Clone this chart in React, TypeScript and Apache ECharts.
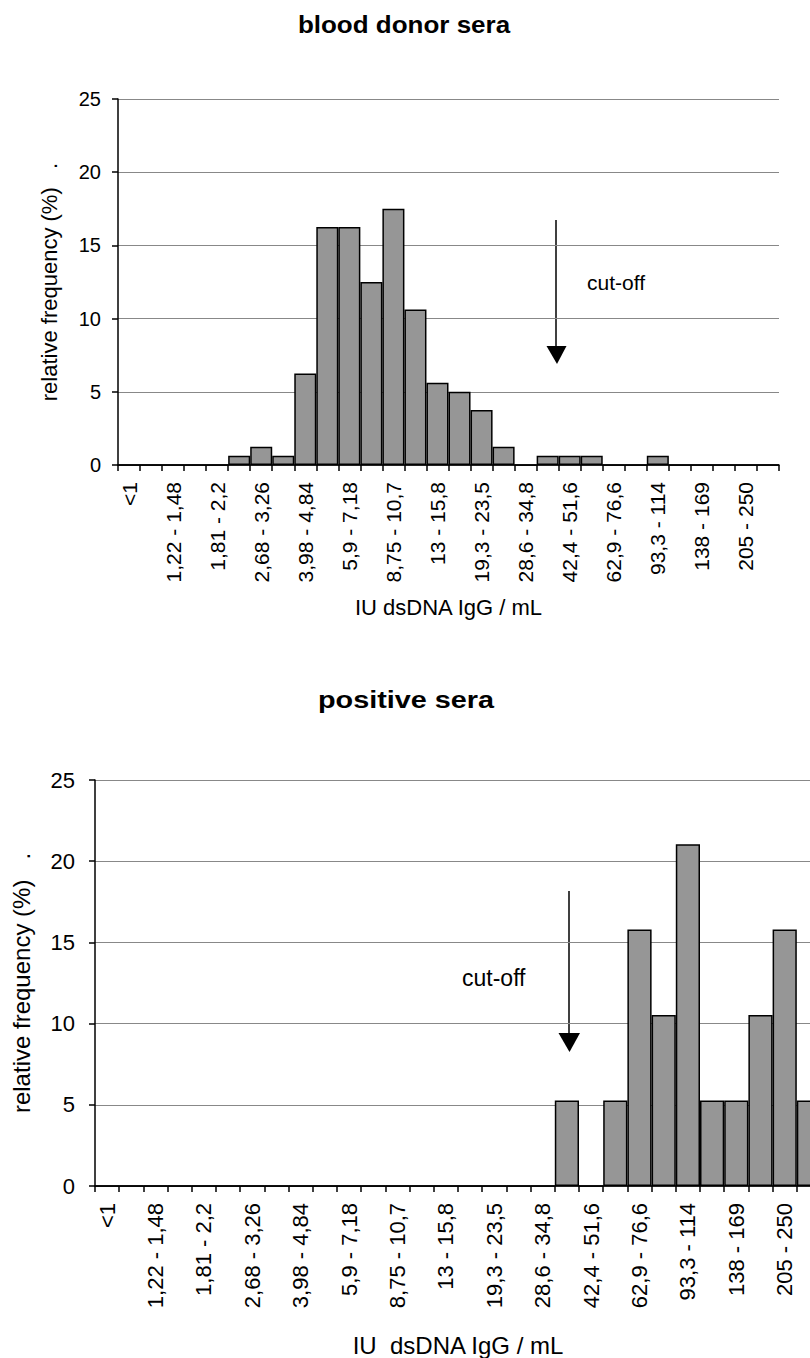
import React, { useEffect, useRef } from "react";
import * as echarts from "echarts";

const categories = [
  "<1", "1 - 1,22", "1,22 - 1,48", "1,48 - 1,81", "1,81 - 2,2", "2,2 - 2,68",
  "2,68 - 3,26", "3,26 - 3,98", "3,98 - 4,84", "4,84 - 5,9", "5,9 - 7,18",
  "7,18 - 8,75", "8,75 - 10,7", "10,7 - 13", "13 - 15,8", "15,8 - 19,3",
  "19,3 - 23,5", "23,5 - 28,6", "28,6 - 34,8", "34,8 - 42,4", "42,4 - 51,6",
  "51,6 - 62,9", "62,9 - 76,6", "76,6 - 93,3", "93,3 - 114", "114 - 138",
  "138 - 169", "169 - 205", "205 - 250", ">250",
];

// blood donor sera, relative frequency (%)
const donorValues = [
  0, 0, 0, 0, 0, 0.625, 1.25, 0.625, 6.25, 16.25, 16.25, 12.5, 17.5, 10.625,
  5.625, 5, 3.75, 1.25, 0, 0.625, 0.625, 0.625, 0, 0, 0.625, 0, 0, 0, 0, 0,
];

// positive sera, relative frequency (%)
const positiveValues = [
  0, 0, 0, 0, 0, 0, 0, 0, 0, 0, 0, 0, 0, 0, 0, 0, 0, 0, 0, 5.26, 0, 5.26,
  15.79, 10.53, 21.05, 5.26, 5.26, 10.53, 15.79, 5.26,
];

const titles = ["blood donor sera", "positive sera"];
const yName = "relative frequency (%)   .";
const xNames = ["IU dsDNA IgG / mL", "IU  dsDNA IgG / mL"];
const cutOffLabel = "cut-off";

const FONT = "'Liberation Sans', Arial, Helvetica, sans-serif";

function App() {
  const ref = useRef<HTMLDivElement>(null);

  useEffect(() => {
    if (!ref.current) return;
    const chart = echarts.init(ref.current, null, { renderer: "svg" });

    const mkX = (gi: number, fs: number, gap: number, nameFs: number) => ({
      type: "category",
      gridIndex: gi,
      data: categories,
      boundaryGap: true,
      name: xNames[gi],
      nameLocation: "middle",
      nameGap: gap,
      nameTextStyle: { color: "#000", fontSize: nameFs, fontFamily: FONT },
      axisLine: { show: true, lineStyle: { color: "#000", width: 1.5 } },
      axisTick: {
        show: true,
        interval: 0,
        alignWithLabel: false,
        length: 6,
        lineStyle: { color: "#000", width: 1.5 },
      },
      axisLabel: {
        interval: 1,
        rotate: 90,
        margin: 17,
        color: "#000",
        fontSize: fs,
        fontFamily: FONT,
      },
      splitLine: { show: false },
    });

    const mkY = (gi: number, fs: number, gap: number, nameFs: number, margin: number) => ({
      type: "value",
      gridIndex: gi,
      min: 0,
      max: 25,
      interval: 5,
      name: yName,
      nameLocation: "middle",
      nameGap: gap,
      nameTextStyle: { color: "#000", fontSize: nameFs, fontFamily: FONT },
      axisLine: { show: true, lineStyle: { color: "#000", width: 1.5 } },
      axisTick: { show: true, length: 6, lineStyle: { color: "#000", width: 1.5 } },
      axisLabel: { color: "#000", fontSize: fs, fontFamily: FONT, margin },
      splitLine: { show: true, lineStyle: { color: "#888", width: 1.2 } },
    });

    const barStyle = {
      color: "#969696",
      borderColor: "#000",
      borderWidth: 1.5,
    };

    chart.setOption({
      animation: false,
      backgroundColor: "#fff",
      grid: [
        { left: 118, top: 99, width: 661, height: 366, containLabel: false },
        { left: 95, top: 780, width: 726, height: 408, containLabel: false },
      ],
      xAxis: [mkX(0, 21, 131, 22), mkX(1, 22, 147, 24)],
      yAxis: [mkY(0, 20, 58, 22, 17), mkY(1, 22, 62, 24, 20)],
      series: [
        {
          type: "bar",
          xAxisIndex: 0,
          yAxisIndex: 0,
          data: donorValues,
          barWidth: "100%",
          barGap: "0%",
          itemStyle: barStyle,
        },
        {
          type: "bar",
          xAxisIndex: 1,
          yAxisIndex: 1,
          data: positiveValues,
          barWidth: "100%",
          barGap: "0%",
          itemStyle: barStyle,
        },
      ],
      graphic: [
        {
          type: "text",
          x: 404,
          y: 25,
          scaleX: 1.13,
          style: {
            text: titles[0],
            fontSize: 23,
            fontWeight: "bold",
            fontFamily: FONT,
            fill: "#000",
            align: "center",
            verticalAlign: "middle",
          },
        },
        {
          type: "text",
          x: 406,
          y: 700,
          scaleX: 1.2,
          style: {
            text: titles[1],
            fontSize: 24,
            fontWeight: "bold",
            fontFamily: FONT,
            fill: "#000",
            align: "center",
            verticalAlign: "middle",
          },
        },
        {
          type: "text",
          x: 587,
          y: 282,
          style: {
            text: cutOffLabel,
            fontSize: 21,
            fontFamily: FONT,
            fill: "#000",
            align: "left",
            verticalAlign: "middle",
          },
        },
        {
          type: "text",
          x: 462,
          y: 978,
          style: {
            text: cutOffLabel,
            fontSize: 23,
            fontFamily: FONT,
            fill: "#000",
            align: "left",
            verticalAlign: "middle",
          },
        },
        {
          type: "line",
          shape: { x1: 556, y1: 220, x2: 556, y2: 350 },
          style: { stroke: "#000", lineWidth: 1.5 },
        },
        {
          type: "polygon",
          shape: { points: [[546.5, 346], [566.5, 346], [557, 364]] },
          style: { fill: "#000" },
        },
        {
          type: "line",
          shape: { x1: 569, y1: 891, x2: 569, y2: 1036 },
          style: { stroke: "#000", lineWidth: 1.5 },
        },
        {
          type: "polygon",
          shape: { points: [[558.5, 1033], [580, 1033], [569.5, 1052]] },
          style: { fill: "#000" },
        },
      ],
    });

    return () => chart.dispose();
  }, []);

  return (
    <div
      style={{
        position: "absolute",
        left: 0,
        top: 0,
        width: 810,
        height: 1358,
        overflow: "hidden",
        background: "#fff",
      }}
    >
      <div ref={ref} style={{ width: 840, height: 1358 }} />
    </div>
  );
}

export default App;
